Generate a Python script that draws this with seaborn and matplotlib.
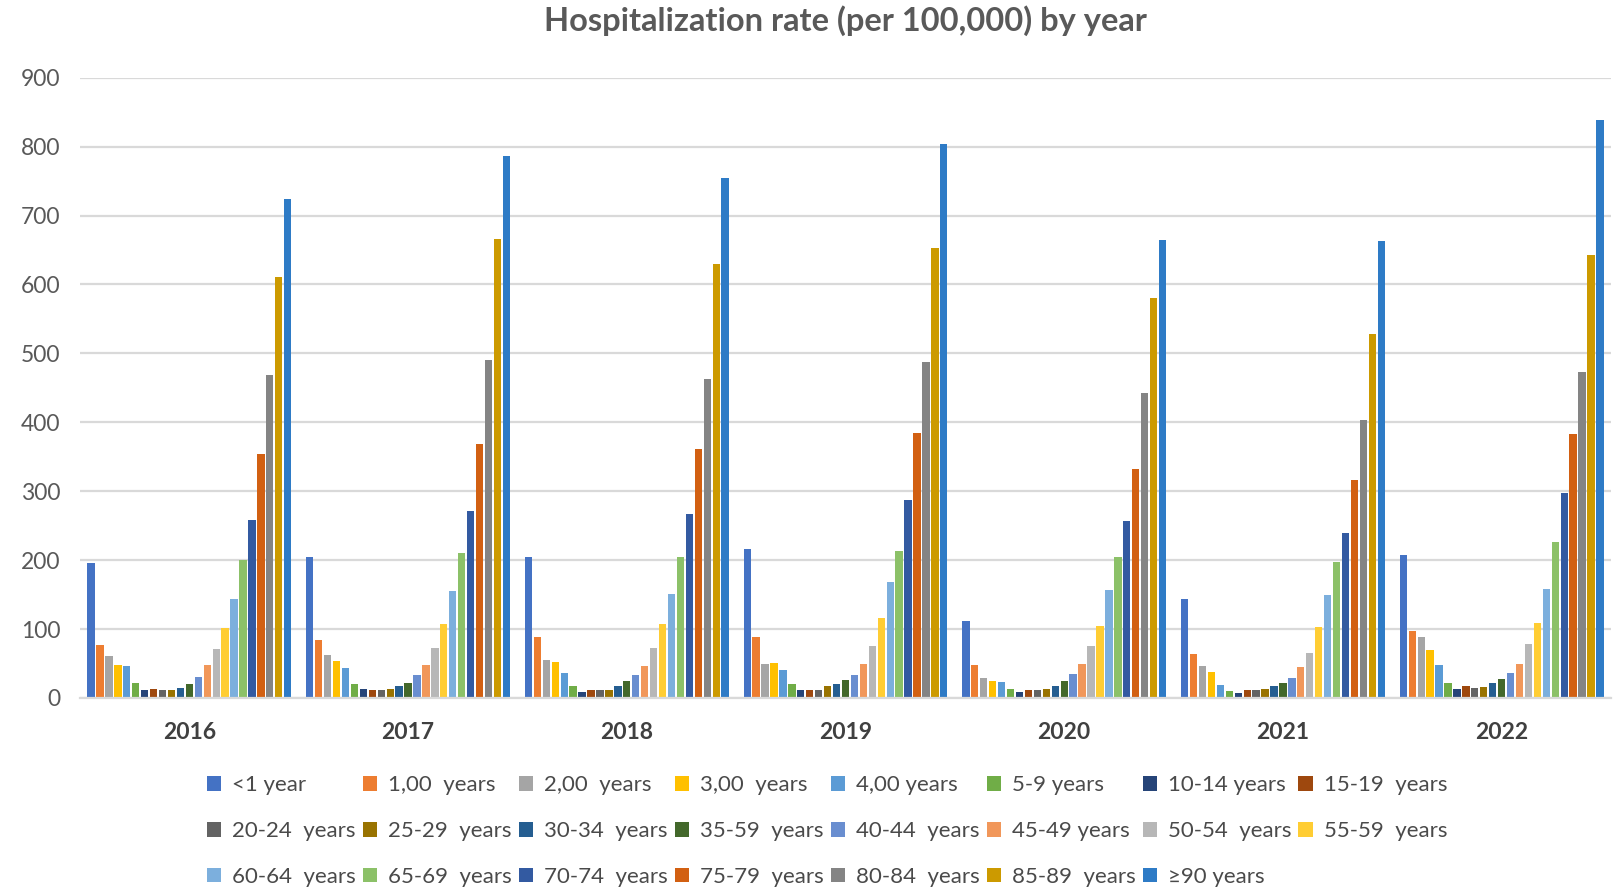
import matplotlib
matplotlib.use("Agg")
import matplotlib.pyplot as plt
import seaborn as sns
import pandas as pd

years = ["2016", "2017", "2018", "2019", "2020", "2021", "2022"]

age_groups = [
    "<1 year", "1,00  years", "2,00  years", "3,00  years", "4,00 years",
    "5-9 years", "10-14 years", "15-19  years", "20-24  years", "25-29  years",
    "30-34  years", "35-59  years", "40-44  years", "45-49 years", "50-54  years",
    "55-59  years", "60-64  years", "65-69  years", "70-74  years", "75-79  years",
    "80-84  years", "85-89  years", "\u226590 years",
]

# hospitalization rate per 100,000, one list per year (same order as age_groups)
rate_2016 = [196, 77, 61, 48, 47, 22, 12, 13, 12, 12, 15, 21, 31, 48, 71, 102, 144, 200, 258, 354, 468, 611, 724]
rate_2017 = [204, 84, 63, 53, 43, 21, 13, 12, 11, 13, 18, 22, 33, 48, 72, 107, 155, 211, 272, 369, 490, 666, 786]
rate_2018 = [204, 89, 55, 52, 36, 18, 9, 12, 12, 12, 17, 24, 34, 47, 72, 108, 151, 205, 267, 361, 463, 629, 754]
rate_2019 = [216, 89, 50, 51, 40, 20, 11, 12, 12, 17, 20, 26, 34, 50, 76, 116, 168, 214, 288, 384, 487, 653, 804]
rate_2020 = [112, 48, 29, 24, 23, 13, 9, 11, 12, 13, 18, 25, 35, 50, 76, 104, 156, 205, 257, 332, 442, 580, 664]
rate_2021 = [144, 64, 47, 37, 19, 10, 7, 12, 11, 13, 17, 22, 29, 45, 65, 103, 150, 198, 240, 317, 403, 528, 663]
rate_2022 = [207, 97, 88, 70, 48, 22, 13, 17, 15, 16, 22, 28, 36, 49, 78, 109, 158, 226, 298, 383, 473, 643, 838]

palette = [
    "#4472C4", "#ED7D31", "#A5A5A5", "#FFC000", "#5B9BD5", "#70AD47",
    "#264478", "#9E480E", "#636363", "#997300", "#255E91", "#43682B",
    "#698ED0", "#F1975A", "#B7B7B7", "#FFCD33", "#7CAFDD", "#8CC168",
    "#335AA1", "#D26012", "#848484", "#CC9A00", "#2E7BC6",
]

rates = [rate_2016, rate_2017, rate_2018, rate_2019, rate_2020, rate_2021, rate_2022]
df = pd.DataFrame(
    [(y, g, v) for y, vals in zip(years, rates) for g, v in zip(age_groups, vals)],
    columns=["year", "age", "rate"],
)

sns.set_theme(style="white")
plt.rcParams["font.family"] = ["Lato", "DejaVu Sans"]
text_gray = "#595959"
grid_gray = "#D9D9D9"

fig = plt.figure(figsize=(16.21, 8.90), dpi=100)
ax = fig.add_axes([80 / 1621, 1 - 698 / 890, (1611 - 80) / 1621, (698 - 77.7) / 890])

sns.barplot(
    data=df, x="year", y="rate", hue="age", order=years, hue_order=age_groups,
    palette=palette, width=0.94, gap=0.18, linewidth=0, saturation=1,
    errorbar=None, ax=ax,
)

ax.set_ylim(0, 900)
ax.set_xlim(-0.5, 6.5)
ax.set_yticks(range(0, 901, 100))
ax.yaxis.grid(True, color=grid_gray, linewidth=1.6)
ax.set_axisbelow(True)
for side in ["left", "right", "top"]:
    ax.spines[side].set_visible(False)
ax.spines["bottom"].set_color(grid_gray)
ax.spines["bottom"].set_linewidth(1.6)
ax.tick_params(axis="both", length=0)
ax.tick_params(axis="y", labelsize=16.5, labelcolor=text_gray, pad=14)
ax.tick_params(axis="x", labelsize=16.5, labelcolor="#404040", pad=17)
for lbl in ax.get_xticklabels():
    lbl.set_fontweight("bold")
ax.set_xlabel("")
ax.set_ylabel("")

fig.text(845 / 1621, 1 - 21 / 890, "Hospitalization rate (per 100,000) by year",
         ha="center", va="center", fontsize=23.5, fontweight="bold", color=text_gray)

# legend laid out row by row: 8 columns, filled column-major by matplotlib
handles, labels = ax.get_legend_handles_labels()
ax.get_legend().remove()
ncol = 8
order = []
for c in range(ncol):
    for r in range(3):
        i = r * ncol + c
        if i < len(handles):
            order.append(i)
leg = fig.legend(
    [handles[i] for i in order], [labels[i] for i in order],
    loc="center", bbox_to_anchor=(827 / 1621, 1 - 831 / 890), ncol=ncol,
    frameon=False, fontsize=16, handlelength=0.65, handleheight=0.65,
    handletextpad=0.5, columnspacing=0.3, labelspacing=1.16,
)
for t in leg.get_texts():
    t.set_color("#4a4a4a")

fig.savefig("out.png", dpi=100, facecolor="white")
